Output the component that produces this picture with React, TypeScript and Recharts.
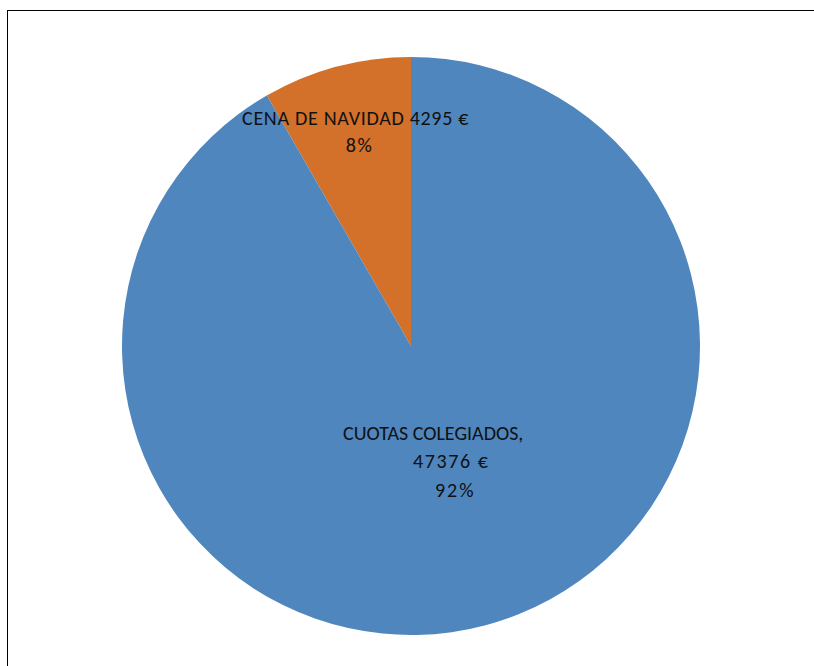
import React from "react";
import { PieChart, Pie, Cell } from "recharts";

const categories = ["CENA DE NAVIDAD", "CUOTAS COLEGIADOS"];
const values = [4295, 47376];
const percents = ["8%", "92%"];
const colors = ["#D3702A", "#4F86BE"];

const data = categories.map((name, i) => ({ name, value: values[i], pct: percents[i] }));

const RAD = Math.PI / 180;
const FONT = "Carlito, Calibri, sans-serif";

const renderLabel = (props: any) => {
  const { cx, cy, midAngle, outerRadius, index } = props;
  const d = data[index];
  const frac = index === 0 ? 0.77 : 0.405;
  const r = outerRadius * frac;
  const x = cx + r * Math.cos(-midAngle * RAD);
  const y = cy + r * Math.sin(-midAngle * RAD);
  if (index === 0) {
    const style = { fontFamily: FONT, fontSize: 20, letterSpacing: 0.7, fill: "#111" };
    return (
      <text x={x} y={y} textAnchor="middle" style={style}>
        <tspan x={x + 2} y={y - 6}>{`${d.name} ${d.value} €`}</tspan>
        <tspan x={x + 6} y={y + 21} style={{ letterSpacing: 1.5 }}>{d.pct}</tspan>
      </text>
    );
  }
  const style = { fontFamily: FONT, fontSize: 20, fill: "#111" };
  return (
    <text x={x} y={y} textAnchor="middle" style={style}>
      <tspan x={x - 8} y={y - 19}>{`${d.name},`}</tspan>
      <tspan x={x + 10} y={y + 9} style={{ letterSpacing: 1.6 }}>{`${d.value} €`}</tspan>
      <tspan x={x + 14} y={y + 38} style={{ letterSpacing: 2 }}>{d.pct}</tspan>
    </text>
  );
};

export default function App() {
  return (
    <div style={{ position: "absolute", left: 0, top: 0, width: 814, height: 666, overflow: "hidden", background: "#fff" }}>
      <div style={{ position: "absolute", left: 7, top: 10, width: 900, height: 900, border: "1.5px solid #000", boxSizing: "border-box" }} />
      <div style={{ position: "absolute", left: 0, top: 0 }}>
        <PieChart width={814} height={666} margin={{ top: 0, right: 0, bottom: 0, left: 0 }}>
          <Pie
            data={data}
            dataKey="value"
            nameKey="name"
            cx={411}
            cy={346}
            outerRadius={289}
            startAngle={90}
            endAngle={450}
            stroke="none"
            isAnimationActive={false}
            label={renderLabel}
            labelLine={false}
          >
            {data.map((_, i) => (
              <Cell key={i} fill={colors[i]} />
            ))}
          </Pie>
        </PieChart>
      </div>
    </div>
  );
}
